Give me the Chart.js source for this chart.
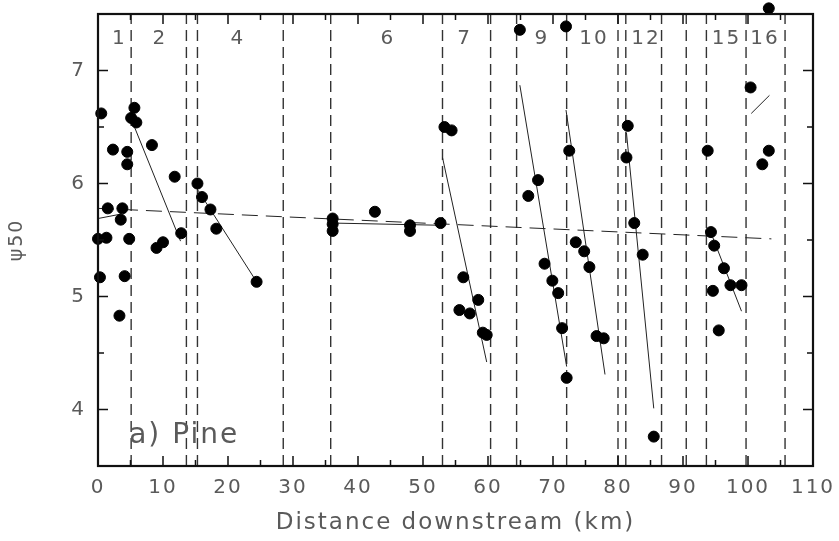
<!DOCTYPE html>
<html lang="en">
<head>
    <meta charset="UTF-8">
    <title>Pine - psi50 downstream</title>
    <script src="https://cdn.jsdelivr.net/npm/chart.js"></script>
    <style>
        body { margin: 0; background: #fff; }
    </style>
</head>
<body>
<canvas id="pineChart" width="839" height="541"></canvas>
<script>
// segment boundaries (km) and segment numbers shown at the top
const boundaryKm = [5.1, 13.6, 15.3, 28.5, 35.8, 53.0, 60.4, 64.4, 72.1, 80.0, 81.2, 86.7, 90.5, 93.6, 99.7, 105.7];
const segmentNames = ['1', '2', '4', '6', '7', '9', '10', '12', '15', '16'];
const segmentNameKm = [3.3, 9.5, 21.5, 44.6, 56.4, 68.3, 76.3, 84.3, 96.7, 102.6];

// samples: distance downstream vs psi50
const distKm = [0, 0.3, 0.5, 1.3, 1.5, 2.3, 3.3, 3.5, 3.75, 4.1, 4.5, 4.5, 4.8,
    5.1, 5.6, 5.9, 8.3, 9.0, 10.0, 11.8, 12.8,
    15.3, 16.0, 17.3, 18.2, 24.4,
    36.1, 36.1, 36.1, 42.6, 48.0, 48.0, 52.7,
    53.3, 54.4, 55.6, 56.2, 57.2, 58.5, 59.2, 59.8,
    64.9, 66.2, 67.7, 68.7, 69.9, 70.8, 71.4, 72.1,
    72.0, 72.5, 73.5, 74.8, 75.6, 76.7, 77.8,
    81.3, 81.5, 82.5, 83.8, 85.5,
    93.8, 94.3, 94.6, 94.8, 95.5, 96.3, 97.3, 99.0,
    100.4, 102.2, 103.2, 103.2];
const psi50 = [5.51, 5.17, 6.62, 5.52, 5.78, 6.30, 4.83, 5.68, 5.78, 5.18, 6.28, 6.17, 5.51,
    6.58, 6.67, 6.54, 6.34, 5.43, 5.48, 6.06, 5.56,
    6.00, 5.88, 5.77, 5.60, 5.13,
    5.69, 5.64, 5.58, 5.75, 5.63, 5.58, 5.65,
    6.50, 6.47, 4.88, 5.17, 4.85, 4.97, 4.68, 4.66,
    7.36, 5.89, 6.03, 5.29, 5.14, 5.03, 4.72, 4.28,
    7.39, 6.29, 5.48, 5.40, 5.26, 4.65, 4.63,
    6.23, 6.51, 5.65, 5.37, 3.76,
    6.29, 5.57, 5.05, 5.45, 4.70, 5.25, 5.10, 5.10,
    6.85, 6.17, 6.29, 7.55];

// fitted lines per segment (start / end)
const fitX0 = [0, 5.4, 15.4, 36.0, 53.0, 64.9, 72.0, 81.3, 94.6, 100.5];
const fitY0 = [5.69, 6.53, 5.94, 5.65, 6.23, 6.87, 6.65, 6.45, 5.52, 6.62];
const fitX1 = [3.6, 12.7, 24.4, 53.0, 59.8, 72.1, 78.0, 85.5, 99.0, 103.3];
const fitY1 = [5.73, 5.49, 5.13, 5.63, 4.42, 4.38, 4.31, 4.01, 4.87, 6.78];

// overall downstream trend
const trendX = [0, 103.6];
const trendY = [5.78, 5.51];

const Y_MIN = 3.5, Y_MAX = 7.5;

// build line data with gaps between pieces
const boundaryData = [];
boundaryKm.forEach(x => {
    boundaryData.push({x: x, y: Y_MIN}, {x: x, y: Y_MAX}, {x: x, y: null});
});
const fitData = [];
fitX0.forEach((x, i) => {
    fitData.push({x: x, y: fitY0[i]}, {x: fitX1[i], y: fitY1[i]}, {x: fitX1[i], y: null});
});
const pointData = distKm.map((x, i) => ({x: x, y: psi50[i]}));
const trendData = trendX.map((x, i) => ({x: x, y: trendY[i]}));

const textGray = '#5a5a5a';
const fontFam = '"DejaVu Sans", sans-serif';

// frame, inward ticks, segment numbers, panel label
const framePlugin = {
    id: 'frame',
    beforeDraw(chart) {
        // the scanned lettering is widely spaced
        chart.ctx.letterSpacing = '2px';
    },
    afterDraw(chart) {
        const {ctx, chartArea: a, scales} = chart;
        const xs = scales.x, ys = scales.y;
        ctx.save();
        ctx.strokeStyle = '#111';
        ctx.lineWidth = 1.5;
        for (let v = 0; v <= 110; v += 5) {
            const px = xs.getPixelForValue(v);
            const len = v % 10 === 0 ? 10 : 6;
            ctx.beginPath();
            ctx.moveTo(px, a.bottom); ctx.lineTo(px, a.bottom - len);
            ctx.moveTo(px, a.top); ctx.lineTo(px, a.top + len);
            ctx.stroke();
        }
        for (let v = Y_MIN; v <= Y_MAX + 0.001; v += 0.5) {
            const py = ys.getPixelForValue(v);
            const len = Number.isInteger(v) ? 10 : 6;
            ctx.beginPath();
            ctx.moveTo(a.left, py); ctx.lineTo(a.left + len, py);
            ctx.moveTo(a.right, py); ctx.lineTo(a.right - len, py);
            ctx.stroke();
        }
        ctx.lineWidth = 2.2;
        ctx.strokeRect(a.left, a.top, a.right - a.left, a.bottom - a.top);

        ctx.letterSpacing = '2px';
        ctx.fillStyle = textGray;
        ctx.font = '20px ' + fontFam;
        ctx.textAlign = 'center';
        ctx.textBaseline = 'middle';
        const ty = ys.getPixelForValue(7.28);
        segmentNames.forEach((s, i) => {
            ctx.fillText(s, xs.getPixelForValue(segmentNameKm[i]), ty);
        });

        ctx.font = '28px ' + fontFam;
        ctx.textAlign = 'left';
        ctx.fillText('a) Pine', xs.getPixelForValue(4.8), ys.getPixelForValue(3.77));
        ctx.restore();
    }
};

const ctx = document.getElementById('pineChart').getContext('2d');
new Chart(ctx, {
    type: 'scatter',
    data: {
        datasets: [
            {
                type: 'line',
                data: boundaryData,
                borderColor: '#333',
                borderWidth: 1.4,
                borderDash: [11, 6],
                pointRadius: 0,
                spanGaps: false,
                order: 3
            },
            {
                type: 'line',
                data: trendData,
                borderColor: '#222',
                borderWidth: 1,
                borderDash: [16, 8],
                pointRadius: 0,
                order: 2
            },
            {
                type: 'line',
                data: fitData,
                borderColor: '#222',
                borderWidth: 1,
                pointRadius: 0,
                spanGaps: false,
                order: 2
            },
            {
                data: pointData,
                backgroundColor: '#000',
                borderColor: '#000',
                pointRadius: 5.5,
                clip: false,
                order: 1
            }
        ]
    },
    options: {
        responsive: false,
        animation: false,
        layout: { padding: { top: 14, right: 26, left: 0, bottom: 0 } },
        plugins: {
            legend: { display: false },
            tooltip: { enabled: false }
        },
        scales: {
            x: {
                type: 'linear',
                min: 0,
                max: 110,
                grid: { display: false, drawTicks: false },
                border: { display: false },
                ticks: {
                    stepSize: 10,
                    padding: 10,
                    autoSkip: false,
                    maxRotation: 0,
                    color: textGray,
                    font: { family: fontFam, size: 20 }
                },
                title: {
                    display: true,
                    text: 'Distance downstream (km)',
                    color: textGray,
                    font: { family: fontFam, size: 23 },
                    padding: { top: 5 }
                },
                afterFit(scale) {
                    scale.height = 75;
                    scale.paddingLeft = 0;
                    scale.paddingRight = 0;
                }
            },
            y: {
                type: 'linear',
                min: Y_MIN,
                max: Y_MAX,
                grid: { display: false, drawTicks: false },
                border: { display: false },
                ticks: {
                    stepSize: 0.5,
                    padding: 12,
                    autoSkip: false,
                    color: textGray,
                    font: { family: fontFam, size: 20 },
                    callback: v => Number.isInteger(v) ? String(v) : ''
                },
                title: {
                    display: true,
                    text: 'ψ50',
                    color: textGray,
                    font: { family: fontFam, size: 19 },
                    padding: { top: 6 }
                },
                afterFit(scale) {
                    scale.width = 98;
                    scale.paddingTop = 0;
                    scale.paddingBottom = 0;
                }
            }
        }
    },
    plugins: [framePlugin]
});
</script>
</body>
</html>
